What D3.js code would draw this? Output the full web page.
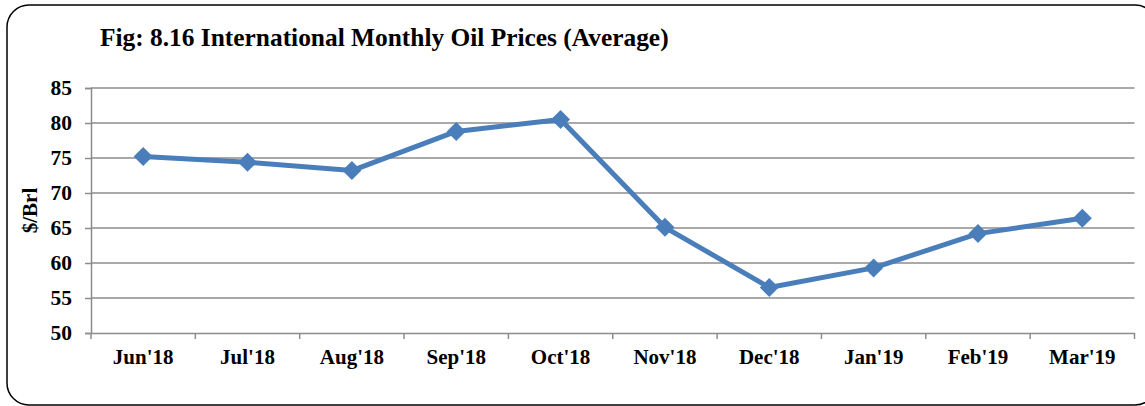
<!DOCTYPE html>
<html>
<head>
<meta charset="utf-8">
<script src="https://cdn.jsdelivr.net/npm/d3@7"></script>
<style>
  html, body { margin: 0; padding: 0; background: #fff; }
  svg { display: block; }
  text { font-family: "Liberation Serif", "Times New Roman", serif; font-weight: bold; fill: #000; }
</style>
</head>
<body>
<svg id="chart" width="1145" height="406"></svg>
<script>
const title = "Fig: 8.16 International Monthly Oil Prices (Average)";
const yAxisLabel = "$/Brl";
const months = ["Jun'18", "Jul'18", "Aug'18", "Sep'18", "Oct'18", "Nov'18", "Dec'18", "Jan'19", "Feb'19", "Mar'19"];
const prices = [75.2, 74.4, 73.2, 78.8, 80.5, 65.1, 56.5, 59.3, 64.2, 66.4];
const yTicks = [50, 55, 60, 65, 70, 75, 80, 85];

const svg = d3.select("#chart");
const plot = { left: 91, right: 1134.5, top: 88, bottom: 333 };

// outer rounded frame
svg.append("rect")
  .attr("x", 7).attr("y", 5)
  .attr("width", 1150).attr("height", 400)
  .attr("rx", 22).attr("ry", 22)
  .attr("fill", "none").attr("stroke", "#000").attr("stroke-width", 1.5);

svg.append("text")
  .attr("x", 100).attr("y", 46)
  .attr("font-size", 25.4)
  .text(title);

const x = d3.scaleBand().domain(months).range([plot.left, plot.right]).padding(0);
const y = d3.scaleLinear().domain([50, 85]).range([plot.bottom, plot.top]);

const gridColor = "#8c8c8c";

// gridlines
svg.append("g").selectAll("line").data(yTicks.filter(t => t !== 50)).join("line")
  .attr("x1", plot.left).attr("x2", plot.right)
  .attr("y1", d => y(d)).attr("y2", d => y(d))
  .attr("stroke", gridColor).attr("stroke-width", 1.5);

// y axis
const yAxis = svg.append("g")
  .attr("transform", `translate(${plot.left},0)`)
  .call(d3.axisLeft(y).tickValues(yTicks).tickSize(6).tickPadding(13));
yAxis.select(".domain").attr("stroke", gridColor).attr("stroke-width", 1.5);
yAxis.selectAll(".tick line").attr("stroke", gridColor).attr("stroke-width", 1.5);
yAxis.selectAll("text").attr("font-size", 21.5).attr("font-family", "Liberation Serif, serif").attr("font-weight", "bold").attr("fill", "#000");

// x axis
const xAxis = svg.append("g")
  .attr("transform", `translate(0,${plot.bottom})`)
  .call(d3.axisBottom(x).tickSize(0).tickPadding(16));
xAxis.select(".domain").attr("stroke", gridColor).attr("stroke-width", 1.5);
xAxis.selectAll("text").attr("font-size", 21).attr("font-family", "Liberation Serif, serif").attr("font-weight", "bold").attr("fill", "#000");
// boundary tick marks
const bounds = months.map(m => x(m)).concat([x(months[months.length - 1]) + x.bandwidth()]);
svg.append("g").selectAll("line").data(bounds).join("line")
  .attr("x1", d => d).attr("x2", d => d)
  .attr("y1", plot.bottom).attr("y2", plot.bottom + 6)
  .attr("stroke", gridColor).attr("stroke-width", 1.5);

// y axis label
svg.append("text")
  .attr("transform", `translate(37,${(plot.top + plot.bottom) / 2}) rotate(-90)`)
  .attr("text-anchor", "middle")
  .attr("font-size", 21)
  .text(yAxisLabel);

// line
const cx = (d, i) => x(months[i]) + x.bandwidth() / 2;
const line = d3.line().x((d, i) => cx(d, i)).y(d => y(d));
const blue = "#4a7ebb";
svg.append("path")
  .datum(prices)
  .attr("d", line)
  .attr("fill", "none").attr("stroke", blue)
  .attr("stroke-width", 5).attr("stroke-linejoin", "round");

// diamond markers
const sym = d3.symbol().type(d3.symbolSquare).size(180);
svg.append("g").selectAll("path").data(prices).join("path")
  .attr("d", sym)
  .attr("transform", (d, i) => `translate(${cx(d, i)},${y(d)}) rotate(45)`)
  .attr("fill", blue);
</script>
</body>
</html>
